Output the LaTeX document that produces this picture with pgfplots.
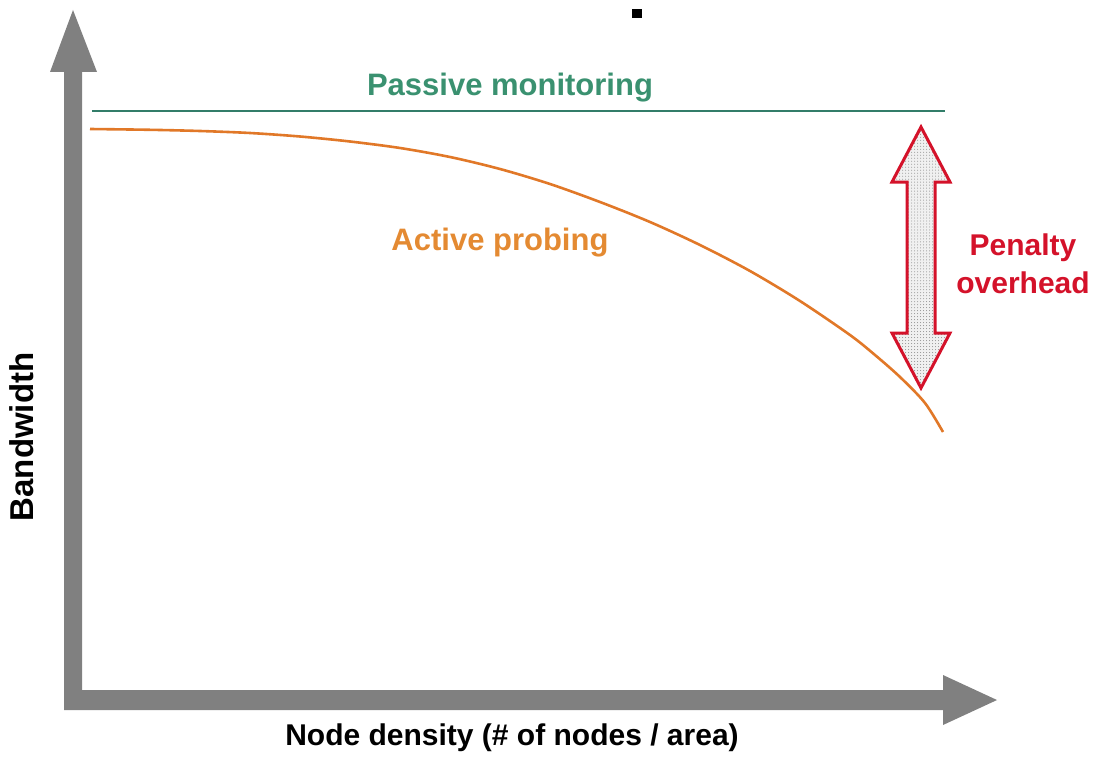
\documentclass[border=0pt]{standalone}
\usepackage{pgfplots}
\pgfplotsset{compat=1.18}
\usetikzlibrary{patterns}
\usepackage{fontspec}
\setmainfont{Liberation Sans}
\definecolor{axgray}{RGB}{128,128,128}
\definecolor{teal1}{RGB}{50,125,105}
\definecolor{tealtxt}{RGB}{58,145,112}
\definecolor{orng}{RGB}{225,120,40}
\definecolor{orngtxt}{RGB}{228,138,50}
\definecolor{redc}{RGB}{212,18,42}
\begin{document}
\begin{tikzpicture}
\begin{axis}[width=1100bp,height=756bp,scale only axis,
  xmin=0,xmax=1100,ymin=0,ymax=756,y dir=reverse,
  axis lines=none,clip=false]
% frame for bounding box
\path (axis cs:0,0) rectangle (axis cs:1100,756);
% gray arrow axes
\fill[axgray] (axis cs:64,710) -- (axis cs:64,72) -- (axis cs:50,72) -- (axis cs:73,10)
  -- (axis cs:97,72) -- (axis cs:82,72) -- (axis cs:82,690) -- (axis cs:943,690)
  -- (axis cs:943,675) -- (axis cs:997,700) -- (axis cs:943,725) -- (axis cs:943,710) -- cycle;
% small black mark
\fill[black] (axis cs:632,9) rectangle (axis cs:642,18);
% passive monitoring
\addplot[teal1, line width=2.8bp] coordinates {(92,111) (945,111)};
% active probing
\addplot[orng, line width=2.6bp, smooth] coordinates {
(90,129) (150,129.8) (200,131) (250,133) (300,136.5) (350,141.5) (400,148) (450,157)
(500,169) (550,184) (600,202) (650,222) (700,245) (750,271) (800,301) (850,335)
(875,355) (900,377) (925,403) (943,432)};
% penalty double arrow
\def\arrowpath{(axis cs:921,127) -- (axis cs:950,182) -- (axis cs:935,182) -- (axis cs:935,333)
  -- (axis cs:950,333) -- (axis cs:921,388) -- (axis cs:892,333) -- (axis cs:907,333)
  -- (axis cs:907,182) -- (axis cs:892,182) -- cycle}
\fill[gray!12] \arrowpath;
\fill[pattern=dots, pattern color=gray!90] \arrowpath;
\draw[redc, line width=3bp, line join=miter] \arrowpath;
% texts
\node[text=tealtxt, font=\fontsize{31bp}{36bp}\selectfont\bfseries] at (axis cs:510,88) {Passive monitoring};
\node[text=orngtxt, font=\fontsize{31bp}{36bp}\selectfont\bfseries] at (axis cs:500,243) {Active probing};
\node[text=redc, font=\fontsize{30bp}{38bp}\selectfont\bfseries, align=center] at (axis cs:1023,264) {Penalty\\overhead};
\node[text=black, font=\fontsize{30bp}{36bp}\selectfont\bfseries] at (axis cs:512,738) {Node density (\# of nodes / area)};
\node[text=black, font=\fontsize{33bp}{38bp}\selectfont\bfseries, rotate=90] at (axis cs:22,437) {Bandwidth};
\end{axis}
\end{tikzpicture}
\end{document}
